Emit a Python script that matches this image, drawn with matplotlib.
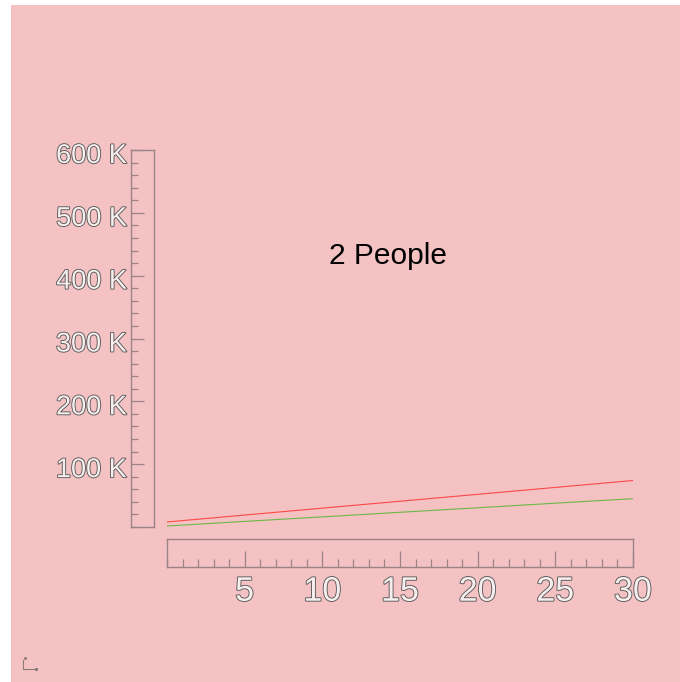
import matplotlib
matplotlib.use("Agg")
import matplotlib.pyplot as plt
import matplotlib.patheffects as pe
import matplotlib.transforms as mtrans
from matplotlib.patches import Rectangle
from matplotlib.lines import Line2D
from matplotlib.ticker import MultipleLocator, FixedLocator

# Data
years = [0, 5, 10, 15, 20, 25, 30]
red_values = [8000, 19000, 30000, 41000, 52000, 63000, 74000]
green_values = [1600, 8900, 16100, 23400, 30600, 37900, 45100]
y_ticks = [100000, 200000, 300000, 400000, 500000, 600000]
y_tick_labels = ["100 K", "200 K", "300 K", "400 K", "500 K", "600 K"]
x_ticks = [5, 10, 15, 20, 25, 30]
x_tick_labels = ["5", "10", "15", "20", "25", "30"]
title = "2 People"

W, H = 680, 682
DPI = 100
PINK = "#f4c2c3"
BOX = "#9c8486"
FONT = "Liberation Sans"

fig = plt.figure(figsize=(W / DPI, H / DPI), dpi=DPI, facecolor="white")

def fx(px):
    return px / W

def fy(py):
    return (H - py) / H

fig.patches.append(Rectangle((fx(11), 0), 1 - fx(11), fy(5), transform=fig.transFigure,
                             facecolor=PINK, edgecolor="none", zorder=-10))

outline = [pe.Stroke(linewidth=1.3, foreground="#5a5a5a"), pe.Normal()]

# Main plot area
L, R, T, B = 167, 633, 150, 527
ax = fig.add_axes([fx(L), fy(B), fx(R) - fx(L), fy(T) - fy(B)])
ax.set_facecolor("none")
for s in ax.spines.values():
    s.set_visible(False)
ax.set_xticks([])
ax.set_yticks([])
ax.set_xlim(0, 30)
ax.set_ylim(0, 600000)
ax.plot(years, red_values, color="#ff4848", lw=0.8, solid_capstyle="butt")
ax.plot(years, green_values, color="#6cb848", lw=0.8, solid_capstyle="butt")

# Y axis box
ayL, ayR = 131, 154
ay = fig.add_axes([fx(ayL), fy(B), fx(ayR) - fx(ayL), fy(T) - fy(B)])
ay.set_facecolor("none")
ay.set_xlim(0, 1)
ay.set_ylim(0, 600000)
ay.set_xticks([])
for s in ay.spines.values():
    s.set_color(BOX)
    s.set_linewidth(1.0)
ay.yaxis.set_major_locator(FixedLocator(y_ticks))
ay.set_yticklabels(y_tick_labels)
ay.yaxis.set_minor_locator(MultipleLocator(20000))
ay.tick_params(axis="y", which="major", direction="in", length=9.4, width=0.9,
               color=BOX, pad=3, labelsize=19.5, labelcolor="#f7eeee")
ay.tick_params(axis="y", which="minor", direction="in", length=5.0, width=0.9, color=BOX)
ydown = mtrans.ScaledTranslation(0, -3 / DPI, fig.dpi_scale_trans)
for lab in ay.get_yticklabels():
    lab.set_fontfamily(FONT)
    lab.set_path_effects(outline)
    lab.set_transform(lab.get_transform() + ydown)

# X axis box
axT, axB = 539, 567
axx = fig.add_axes([fx(L), fy(axB), fx(R) - fx(L), fy(axT) - fy(axB)])
axx.set_facecolor("none")
axx.set_xlim(0, 30)
axx.set_ylim(0, 1)
axx.set_yticks([])
for s in axx.spines.values():
    s.set_color(BOX)
    s.set_linewidth(1.0)
axx.xaxis.set_major_locator(FixedLocator(x_ticks))
axx.set_xticklabels(x_tick_labels)
axx.xaxis.set_minor_locator(MultipleLocator(1))
axx.tick_params(axis="x", which="major", direction="in", length=11.5, width=0.9,
                color=BOX, pad=7, labelsize=24.5, labelcolor="#f7eeee")
axx.tick_params(axis="x", which="minor", direction="in", length=5.8, width=0.9, color=BOX)
for lab in axx.get_xticklabels():
    lab.set_fontfamily(FONT)
    lab.set_path_effects(outline)

# Title
fig.text(fx(388), fy(264), title, ha="center", va="baseline", fontsize=21.5,
         family=FONT, color="black")

# Small axis glyph bottom-left
gc = "#8a7a7a"
fig.lines.append(Line2D([fx(23), fx(23), fx(34)], [fy(660), fy(669), fy(669)],
                        transform=fig.transFigure, color=gc, lw=0.8))
fig.lines.append(Line2D([fx(36)], [fy(669)], transform=fig.transFigure, color=gc,
                        marker="s", ms=1.2, lw=0))
fig.lines.append(Line2D([fx(25)], [fy(658)], transform=fig.transFigure, color=gc,
                        marker="s", ms=1.0, lw=0))

fig.savefig("out.png", dpi=DPI, facecolor="white")
